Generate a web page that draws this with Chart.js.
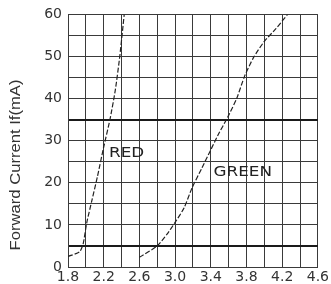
<!DOCTYPE html>
<html>
<head>
<meta charset="utf-8">
<script src="https://cdn.jsdelivr.net/npm/chart.js@4/dist/chart.umd.min.js"></script>
<style>
  html, body { margin: 0; padding: 0; background: #fff; }
  #wrap { width: 331px; height: 284px; }
</style>
</head>
<body>
<div id="wrap"><canvas id="ivChart"></canvas></div>
<script>
// DATA
const redV    = [1.80, 1.93, 1.97, 2.01, 2.07, 2.13, 2.20, 2.27, 2.33, 2.38, 2.43];
const redmA   = [2.5, 3.6, 5.5, 10.5, 16, 21.5, 28.5, 35, 42, 50, 60];
const greenV  = [2.60, 2.80, 2.91, 3.00, 3.10, 3.19, 3.30, 3.39, 3.48, 3.59, 3.69, 3.78, 3.88, 4.00, 4.13, 4.26];
const greenmA = [2.3, 5, 7.8, 10.6, 14, 18.8, 23.5, 27.4, 31.3, 35.6, 40, 45.4, 49.8, 53.6, 56.6, 60];
const xTickLabels = ["1.8", "2.2", "2.6", "3.0", "3.4", "3.8", "4.2", "4.6"];
const yTickLabels = ["0", "10", "20", "30", "40", "50", "60"];
const curveNames = ["RED", "GREEN"];
const curveNamePos = [[2.26, 27], [3.43, 22.5]];
const yTitle = "Forward Current If(mA)";

const FONT = "'DejaVu Sans', sans-serif";
const toPts = (xs, ys) => xs.map((x, i) => ({ x: x, y: ys[i] }));

// gridline 0..60 step 5 and 1.8..4.6 step 0.2; two darker rows like the scan
const yGridWidth = [];
const yGridColor = [];
for (let i = 0; i <= 12; i++) {
  const dark = i === 1 || i === 7;
  yGridWidth.push(dark ? 2 : 1);
  yGridColor.push(dark ? "#1a1a1a" : "#3a3a3a");
}

// curve names + rotated axis title, stretched a bit like the scan
const labelsPlugin = {
  id: "labels",
  afterDraw(chart) {
    const { ctx, scales } = chart;
    ctx.save();
    ctx.fillStyle = "#222";
    ctx.font = "14px " + FONT;
    ctx.textBaseline = "middle";
    curveNames.forEach((name, i) => {
      const p = curveNamePos[i];
      ctx.save();
      ctx.translate(scales.x.getPixelForValue(p[0]), scales.y.getPixelForValue(p[1]));
      ctx.scale(1.2, 1);
      ctx.fillText(name, 0, 0);
      ctx.restore();
    });
    ctx.font = "14px 'Liberation Sans', Arial, sans-serif";
    const w = ctx.measureText(yTitle).width;
    ctx.translate(16, 165);
    ctx.rotate(-Math.PI / 2);
    ctx.scale(171 / w, 1);
    ctx.textAlign = "center";
    ctx.fillStyle = "#333";
    ctx.fillText(yTitle, 0, 0);
    ctx.restore();
  }
};

const curveStyle = {
  showLine: true,
  borderColor: "#222",
  borderWidth: 1.2,
  borderDash: [5, 2],
  pointRadius: 0,
  tension: 0.2
};

new Chart(document.getElementById("ivChart"), {
  type: "scatter",
  data: {
    datasets: [
      Object.assign({ label: "RED", data: toPts(redV, redmA) }, curveStyle),
      Object.assign({ label: "GREEN", data: toPts(greenV, greenmA) }, curveStyle)
    ]
  },
  options: {
    responsive: true,
    maintainAspectRatio: false,
    animation: false,
    layout: { padding: { top: 11, right: 10, left: 0, bottom: 0 } },
    plugins: { legend: { display: false }, tooltip: { enabled: false } },
    scales: {
      x: {
        type: "linear",
        min: 1.8,
        max: 4.6,
        afterFit: s => { s.height = 17; },
        afterBuildTicks: s => {
          s.ticks = [];
          for (let i = 0; i <= 14; i++) s.ticks.push({ value: 1.8 + i * 0.2 });
        },
        ticks: {
          autoSkip: false,
          maxRotation: 0,
          padding: 2,
          color: "#333",
          font: { size: 14, family: FONT },
          callback: (v, i) => (i % 2 === 0 ? xTickLabels[i / 2] : "")
        },
        grid: { color: "#3a3a3a", lineWidth: 1, drawTicks: false },
        border: { color: "#3a3a3a", width: 1 }
      },
      y: {
        min: 0,
        max: 60,
        afterFit: s => { s.width = 68; },
        afterBuildTicks: s => {
          s.ticks = [];
          for (let i = 0; i <= 12; i++) s.ticks.push({ value: i * 5 });
        },
        ticks: {
          autoSkip: false,
          padding: 6,
          color: "#333",
          font: { size: 14, family: FONT },
          callback: (v, i) => (i % 2 === 0 ? yTickLabels[i / 2] : "")
        },
        grid: { drawTicks: false, color: yGridColor, lineWidth: yGridWidth },
        border: { color: "#3a3a3a", width: 1 }
      }
    }
  },
  plugins: [labelsPlugin]
});
</script>
</body>
</html>
